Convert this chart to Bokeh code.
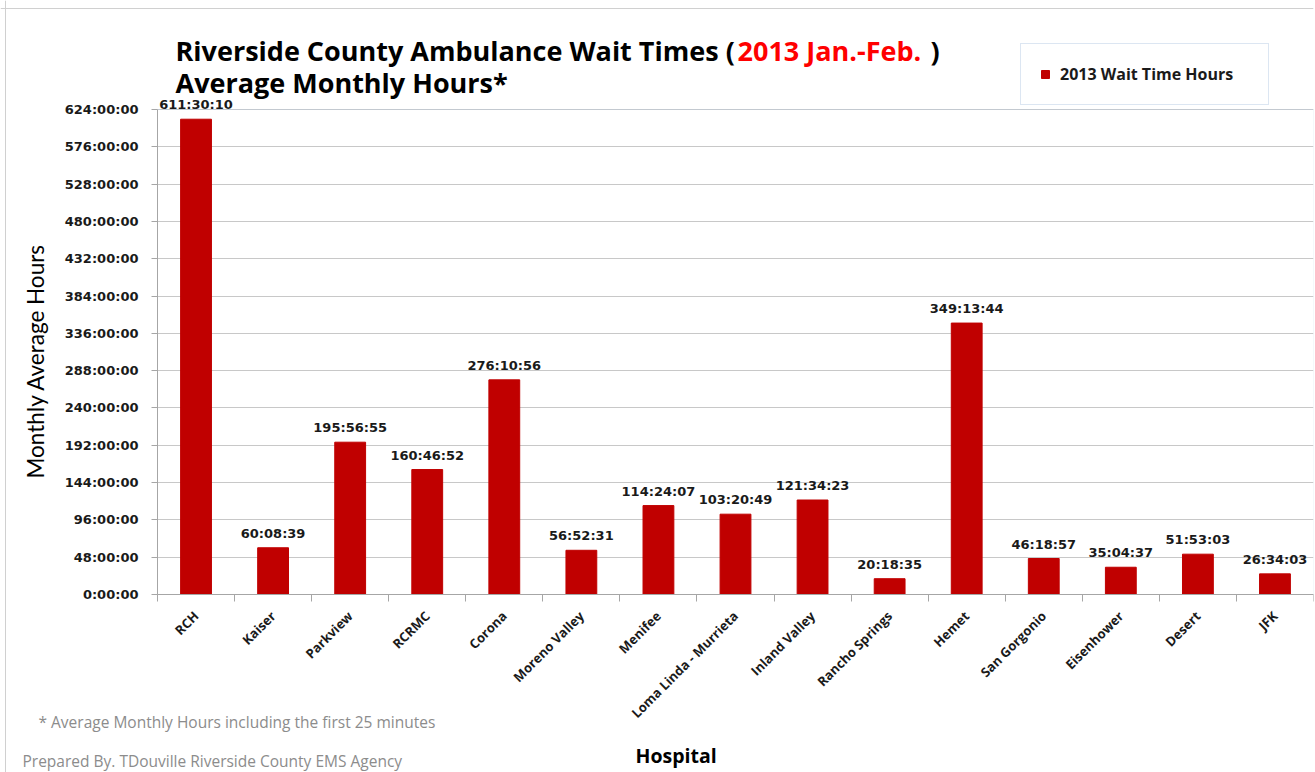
import math
from bokeh.plotting import figure
from bokeh.models import (ColumnDataSource, Range1d, FixedTicker, CustomJSTickFormatter,
                          LabelSet, Label, Legend, LegendItem, BoxAnnotation, Span, Grid)
from bokeh.core.properties import value
from bokeh.embed import file_html
from bokeh.resources import INLINE

# ---------------- data ----------------
hospitals = ["RCH", "Kaiser", "Parkview", "RCRMC", "Corona", "Moreno Valley", "Menifee",
             "Loma Linda - Murrieta", "Inland Valley", "Rancho Springs", "Hemet",
             "San Gorgonio", "Eisenhower", "Desert", "JFK"]
wait_labels = ["611:30:10", "60:08:39", "195:56:55", "160:46:52", "276:10:56", "56:52:31",
               "114:24:07", "103:20:49", "121:34:23", "20:18:35", "349:13:44",
               "46:18:57", "35:04:37", "51:53:03", "26:34:03"]
y_ticks = [0, 48, 96, 144, 192, 240, 288, 336, 384, 432, 480, 528, 576, 624]
series_name = "2013 Wait Time Hours"
title_1 = "Riverside County Ambulance Wait Times ("
title_red = "2013 Jan.-Feb."
title_close = ")"
title_2 = "Average Monthly Hours*"
y_title = "Monthly Average Hours"
x_title = "Hospital"
note_1 = "* Average Monthly Hours including the first 25 minutes"
note_2 = "Prepared By. TDouville Riverside County EMS Agency"


def to_hours(s):
    h, m, sec = (int(v) for v in s.split(":"))
    return h + m / 60 + sec / 3600


hours = [to_hours(s) for s in wait_labels]
idx = list(range(len(hospitals)))
src = ColumnDataSource(dict(x=idx, hours=hours, lab=wait_labels, name=hospitals))

# ---------------- geometry (px) ----------------
W, H = 1315, 772
PLOT_L, PLOT_R = 157, 1313     # plot-area left / right edge
PLOT_T, PLOT_B = 109, 594      # plot-area top (624 h) / bottom (0 h)
n = len(hospitals)
x_lo, x_hi = -0.5, n - 0.5
px_per_cat = (PLOT_R - PLOT_L) / n
x_start = x_lo - PLOT_L / px_per_cat
y_top = y_ticks[-1]
px_per_h = (PLOT_B - PLOT_T) / y_top
y_start = -(H - PLOT_B) / px_per_h
y_end = PLOT_B / px_per_h

BAR = "#c00000"
GRID = "#c8c8c8"
AX = "#a6a6a6"
BLUE = "#b9cde5"
TXT = "#1a1a1a"
NOTE = "#8c8c8c"

p = figure(width=W, height=H, output_backend="svg", toolbar_location=None, title=None,
           x_range=Range1d(x_start, x_hi), y_range=Range1d(y_start, y_end),
           min_border_left=0, min_border_right=W - PLOT_R, min_border_top=0, min_border_bottom=0)
p.outline_line_color = None
p.background_fill_color = "white"
p.border_fill_color = "white"

# plot-area border and outer chart border
p.add_layout(BoxAnnotation(left=x_lo, right=x_hi, bottom=0, top=y_top,
                           fill_alpha=0, line_color=BLUE, line_width=1, level="underlay"))
p.add_layout(Span(location=5, location_units="screen", dimension="height",
                  line_color="#d0d0d0", line_width=1))
p.add_layout(Span(location=H - 8, location_units="screen", dimension="width",
                  line_color="#d0d0d0", line_width=1))

bars = p.vbar(x="x", top="hours", width=0.4, source=src, fill_color=BAR, line_color=BAR)

# x axis (drawn at 0 h)
xa = p.xaxis[0]
xa.fixed_location = 0
xa.bounds = (x_lo, x_hi)
xa.ticker = FixedTicker(ticks=idx, minor_ticks=[i - 0.5 for i in range(n + 1)])
xa.major_label_overrides = {i: nm for i, nm in enumerate(hospitals)}
xa.major_label_orientation = math.pi / 4
xa.major_tick_line_color = None
xa.major_tick_out = 6
xa.minor_tick_line_color = AX
xa.minor_tick_out = 7
xa.minor_tick_in = 0
xa.axis_line_color = AX
xa.major_label_text_font = "Open Sans"
xa.major_label_text_font_style = "bold"
xa.major_label_text_font_size = "13px"
xa.major_label_text_color = TXT
xa.major_label_standoff = 12
p.xgrid.grid_line_color = None

# y axis (drawn at the plot-area left edge)
ya = p.yaxis[0]
ya.fixed_location = x_lo
ya.bounds = (0, y_top)
ya.ticker = FixedTicker(ticks=y_ticks, minor_ticks=[])
ya.formatter = CustomJSTickFormatter(code="return tick + ':00:00'")
ya.axis_line_color = AX
ya.major_tick_line_color = AX
ya.major_tick_out = 6
ya.major_tick_in = 0
ya.minor_tick_line_color = None
ya.major_label_text_font = "DejaVu Sans"
ya.major_label_text_font_style = "bold"
ya.major_label_text_font_size = "13px"
ya.major_label_text_color = TXT
ya.major_label_standoff = 13

yg = p.ygrid[0]
yg.grid_line_color = GRID
yg.grid_line_width = 1
if "cross_bounds" in Grid.properties():
    yg.cross_bounds = (x_lo, x_hi)
else:
    yg.grid_line_color = None
    p.segment(x0=[x_lo] * len(y_ticks), x1=[x_hi] * len(y_ticks), y0=y_ticks, y1=y_ticks,
              line_color=GRID, line_width=1, level="underlay")

# value labels above bars
p.add_layout(LabelSet(x="x", y="hours", text="lab", source=src, y_offset=7,
                      text_align="center", text_baseline="bottom",
                      text_font=value("DejaVu Sans"), text_font_style="bold",
                      text_font_size="13px", text_color=TXT))


def lab(x, y, text, **kw):
    p.add_layout(Label(x=x, y=H - y, text=text, x_units="screen", y_units="screen", **kw))


# chart title (mixed colours); x, y are canvas px (y = baseline from top)
tf = dict(text_font="Open Sans", text_font_style="bold", text_font_size="27px",
          text_baseline="alphabetic")
lab(175, 50, title_1, text_color="black", **tf)
lab(737, 50, title_red, text_color="#ff0000", **tf)
lab(930, 50, title_close, text_color="black", **tf)
lab(175, 82, title_2, text_color="black", **tf)

# axis titles and notes
lab(35, 478, y_title, angle=math.pi / 2, text_align="left", text_baseline="alphabetic",
    text_font="Lato", text_font_size="22.5px", text_color="black")
lab(635, 755, x_title, text_baseline="alphabetic", text_font="Open Sans",
    text_font_style="bold", text_font_size="19.5px", text_color="black")
lab(38, 721, note_1, text_baseline="alphabetic", text_font="Open Sans",
    text_font_size="15.5px", text_color=NOTE)
lab(22, 760, note_2, text_baseline="alphabetic", text_font="Open Sans",
    text_font_size="15.5px", text_color=NOTE)

# legend
legend = Legend(items=[LegendItem(label=series_name, renderers=[bars])],
                location=(1020, H - 105), orientation="vertical",
                border_line_color=BLUE, border_line_width=1,
                background_fill_color="white", background_fill_alpha=1,
                padding=19, margin=0, spacing=0,
                glyph_width=10, glyph_height=10, label_standoff=10, label_width=189,
                label_text_font="Open Sans", label_text_font_style="bold",
                label_text_font_size="16px", label_text_color=TXT)
p.add_layout(legend)

open("out.html", "w").write(file_html(p, INLINE))
